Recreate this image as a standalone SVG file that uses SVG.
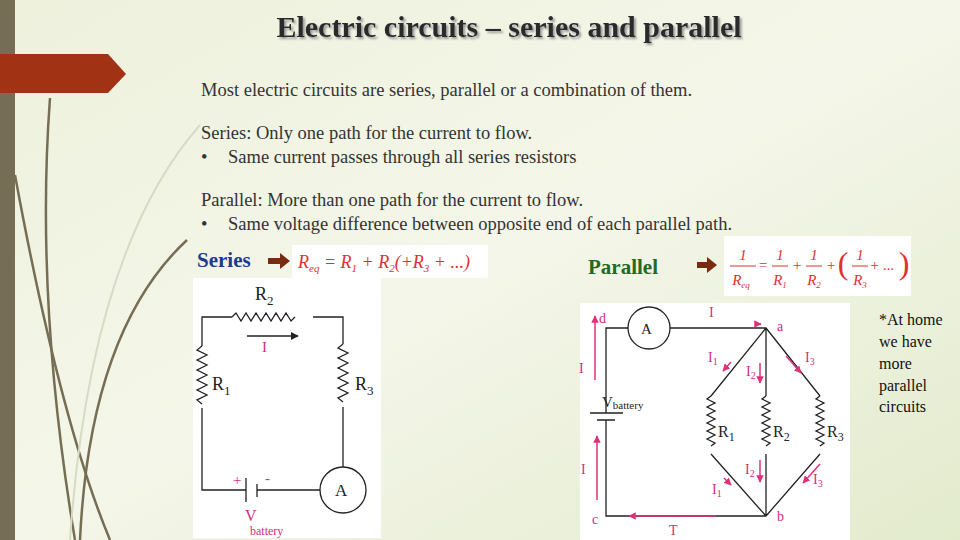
<svg xmlns="http://www.w3.org/2000/svg" width="960" height="540" viewBox="0 0 960 540">
<style>
.w{stroke:#222;stroke-width:1.3;fill:none}
.pa{stroke:#e0307a;stroke-width:1.5;fill:none}
</style>
<defs>
<linearGradient id="bg" x1="0" y1="0" x2="1" y2="1"><stop offset="0" stop-color="#eef1dc"/><stop offset="0.5" stop-color="#f4f6e9"/><stop offset="1" stop-color="#e3ebcd"/></linearGradient>
<filter id="sh" x="-5%" y="-20%" width="110%" height="150%"><feDropShadow dx="2" dy="2" stdDeviation="0.8" flood-color="#999"/></filter>
<marker id="ah" viewBox="0 0 10 10" refX="9" refY="5" markerWidth="6" markerHeight="6" orient="auto"><path d="M0,0L10,5L0,10z" fill="#222"/></marker>
<marker id="ap" viewBox="0 0 10 10" refX="9" refY="5" markerWidth="5" markerHeight="5" orient="auto"><path d="M0,0L10,5L0,10z" fill="#e0307a"/></marker>
</defs>
<rect width="960" height="540" fill="url(#bg)"/>
<rect x="0" y="0" width="15" height="540" fill="#766d55"/>
<g fill="none" stroke="#766d55" stroke-width="2.5">
<path d="M50,98 Q35,300 75,540"/>
<path d="M15,175 Q60,420 110,540"/>
<path d="M187,240 Q90,330 80,540"/>
</g>
<path d="M200,125 Q90,250 70,540" fill="none" stroke="#d6dcc4" stroke-width="2"/>
<path d="M0,54H108L126,74L108,93H0z" fill="#a23214"/>
<g font-family="Liberation Serif, serif" fill="#333">
<text x="509" y="37" text-anchor="middle" font-size="30" font-weight="bold" fill="#2a2a2a" filter="url(#sh)">Electric circuits – series and parallel</text>
<text x="201" y="96" font-size="18.5">Most electric circuits are series, parallel or a combination of them.</text>
<text x="201" y="139" font-size="18.5">Series: Only one path for the current to flow.</text>
<text x="201" y="163" font-size="18.5">•<tspan x="228">Same current passes through all series resistors</tspan></text>
<text x="201" y="206" font-size="18.5">Parallel: More than one path for the current to flow.</text>
<text x="201" y="230" font-size="18.5">•<tspan x="228">Same voltage difference between opposite end of each parallel path.</tspan></text>
</g>
<g id="series">
<text x="197" y="267" font-family="Liberation Serif, serif" font-weight="bold" font-size="21" fill="#1a3c8c">Series</text>
<path d="M268,258h12v-5l10,8l-10,8v-5h-12z" fill="#7a2a10"/>
<rect x="292" y="245" width="196" height="33" fill="#fff"/>
<text x="298" y="268" font-family="Liberation Serif, serif" font-style="italic" font-size="18" fill="#e03030">R<tspan font-size="11" dy="4">eq</tspan><tspan dy="-4"> = R</tspan><tspan font-size="11" dy="4">1</tspan><tspan dy="-4"> + R</tspan><tspan font-size="11" dy="4">2</tspan><tspan dy="-4">(+R</tspan><tspan font-size="11" dy="4">3</tspan><tspan dy="-4"> + ...)</tspan></text>
<rect x="193" y="278" width="188" height="260" fill="#fff"/>
<path class="w" d="M232,317H202V346M202,408V490H246M257,490H320M343,467V407M343,344V317H313"/>
<path class="w" d="M232,317l4,-4l5,8l5,-8l5,8l5,-8l5,8l5,-8l5,8l5,-8l5,8l5,-8l5,8l4,-4"/>
<path class="w" d="M202,346l-5,4l10,5l-10,5l10,5l-10,5l10,5l-10,5l10,5l-10,5l10,5l-10,5l5,4"/>
<path class="w" d="M343,344l-5,4l10,5l-10,5l10,5l-10,5l10,5l-10,5l10,5l-10,5l10,5l-10,5l5,4"/>
<path class="w" d="M246,478V502M257,484V497" stroke-width="2"/>
<circle class="w" cx="343" cy="490" r="23"/>
<path class="w" d="M247,336H298" marker-end="url(#ah)"/>
<g font-family="Liberation Serif, serif" fill="#222">
<text x="255" y="300" font-size="18">R<tspan font-size="13" dy="5">2</tspan></text>
<text x="212" y="390" font-size="18">R<tspan font-size="13" dy="5">1</tspan></text>
<text x="355" y="390" font-size="18">R<tspan font-size="13" dy="5">3</tspan></text>
<text x="335" y="496" font-size="17">A</text>
</g>
<g font-family="Liberation Serif, serif" fill="#d0307a">
<text x="262" y="352" font-size="15">I</text>
<text x="233" y="485" font-size="15">+</text>
<text x="265" y="483" font-size="15">-</text>
<text x="245" y="521" font-size="16">V</text>
<text x="250" y="535" font-size="12">battery</text>
</g>
</g>
<g id="parallel">
<text x="588" y="274" font-family="Liberation Serif, serif" font-weight="bold" font-size="21" fill="#1f6b25">Parallel</text>
<path d="M697,262h10v-5l10,8l-10,8v-5h-10z" fill="#7a2a10"/>
<rect x="724" y="236" width="187" height="60" fill="#fff"/>
<g font-family="Liberation Serif, serif" font-style="italic" font-size="15" fill="#e03030" text-anchor="middle">
<text x="743" y="260">1</text><line x1="730" y1="266" x2="756" y2="266" stroke="#e03030"/><text x="741" y="285">R<tspan font-size="9" dy="3">eq</tspan></text>
<text x="763" y="270">=</text>
<text x="780" y="260">1</text><line x1="772" y1="266" x2="788" y2="266" stroke="#e03030"/><text x="780" y="285">R<tspan font-size="9" dy="3">1</tspan></text>
<text x="797" y="270">+</text>
<text x="814" y="260">1</text><line x1="806" y1="266" x2="822" y2="266" stroke="#e03030"/><text x="814" y="285">R<tspan font-size="9" dy="3">2</tspan></text>
<text x="831" y="270">+</text>
<text x="843" y="274" font-size="32" font-style="normal">(</text>
<text x="860" y="260">1</text><line x1="852" y1="266" x2="868" y2="266" stroke="#e03030"/><text x="860" y="285">R<tspan font-size="9" dy="3">3</tspan></text>
<text x="882" y="270">+ ...</text>
<text x="904" y="274" font-size="32" font-style="normal">)</text>
</g>
<rect x="580" y="303" width="270" height="237" fill="#fff"/>
<path class="w" d="M628,328H606V413M606,420V516H766M670,328H766V396M766,454V516M766,328L711,396M766,328L820,396M711,454L766,516M820,454L766,516"/>
<path class="w" d="M590,413H623M597,420H615" stroke-width="1.6"/>
<path class="w" d="M711,396l-4,3l8,4l-8,4l8,4l-8,4l8,4l-8,4l8,4l-8,4l8,4l-8,4l8,4l-4,3"/>
<path class="w" d="M766,396l-4,3l8,4l-8,4l8,4l-8,4l8,4l-8,4l8,4l-8,4l8,4l-8,4l8,4l-4,3"/>
<path class="w" d="M820,396l-4,3l8,4l-8,4l8,4l-8,4l8,4l-8,4l8,4l-8,4l8,4l-8,4l8,4l-4,3"/>
<circle class="w" cx="649" cy="328" r="21"/>
<g font-family="Liberation Serif, serif" fill="#222">
<text x="641" y="334" font-size="15">A</text>
<text x="602" y="407" font-size="15">V<tspan font-size="11" dy="2">battery</tspan></text>
<text x="718" y="437" font-size="16">R<tspan font-size="12" dy="4">1</tspan></text>
<text x="773" y="437" font-size="16">R<tspan font-size="12" dy="4">2</tspan></text>
<text x="827" y="437" font-size="16">R<tspan font-size="12" dy="4">3</tspan></text>
</g>
<g class="pa">
<path d="M595,380V316" marker-end="url(#ap)"/>
<path d="M597,500V436" marker-end="url(#ap)"/>
<path d="M716,516H629" marker-end="url(#ap)"/>
<path d="M755,324h6" marker-end="url(#ap)"/>
<path d="M731,362l-8,9" marker-end="url(#ap)"/>
<path d="M760,363V383" marker-end="url(#ap)"/>
<path d="M786,356l15,17" marker-end="url(#ap)"/>
<path d="M760,460V482" marker-end="url(#ap)"/>
<path d="M724,478l7,7" marker-end="url(#ap)"/>
<path d="M820,464l-17,19" marker-end="url(#ap)"/>
</g>
<g font-family="Liberation Serif, serif" fill="#d0307a" font-size="14">
<text x="599" y="323">d</text><text x="777" y="331">a</text><text x="777" y="521">b</text><text x="592" y="524">c</text>
<text x="709" y="317">I</text><text x="579" y="373">I</text><text x="581" y="474">I</text><text x="669" y="535">T</text>
<text x="708" y="362">I<tspan font-size="10" dy="3">1</tspan></text>
<text x="746" y="376">I<tspan font-size="10" dy="3">2</tspan></text>
<text x="805" y="362">I<tspan font-size="10" dy="3">3</tspan></text>
<text x="745" y="474">I<tspan font-size="10" dy="3">2</tspan></text>
<text x="712" y="494">I<tspan font-size="10" dy="3">1</tspan></text>
<text x="813" y="484">I<tspan font-size="10" dy="3">3</tspan></text>
</g>
</g>
<g font-family="Liberation Serif, serif" font-size="16" fill="#111">
<text x="879" y="325">*At home</text><text x="879" y="347">we have</text><text x="879" y="369">more</text><text x="879" y="391">parallel</text><text x="879" y="412">circuits</text>
</g>
</svg>
